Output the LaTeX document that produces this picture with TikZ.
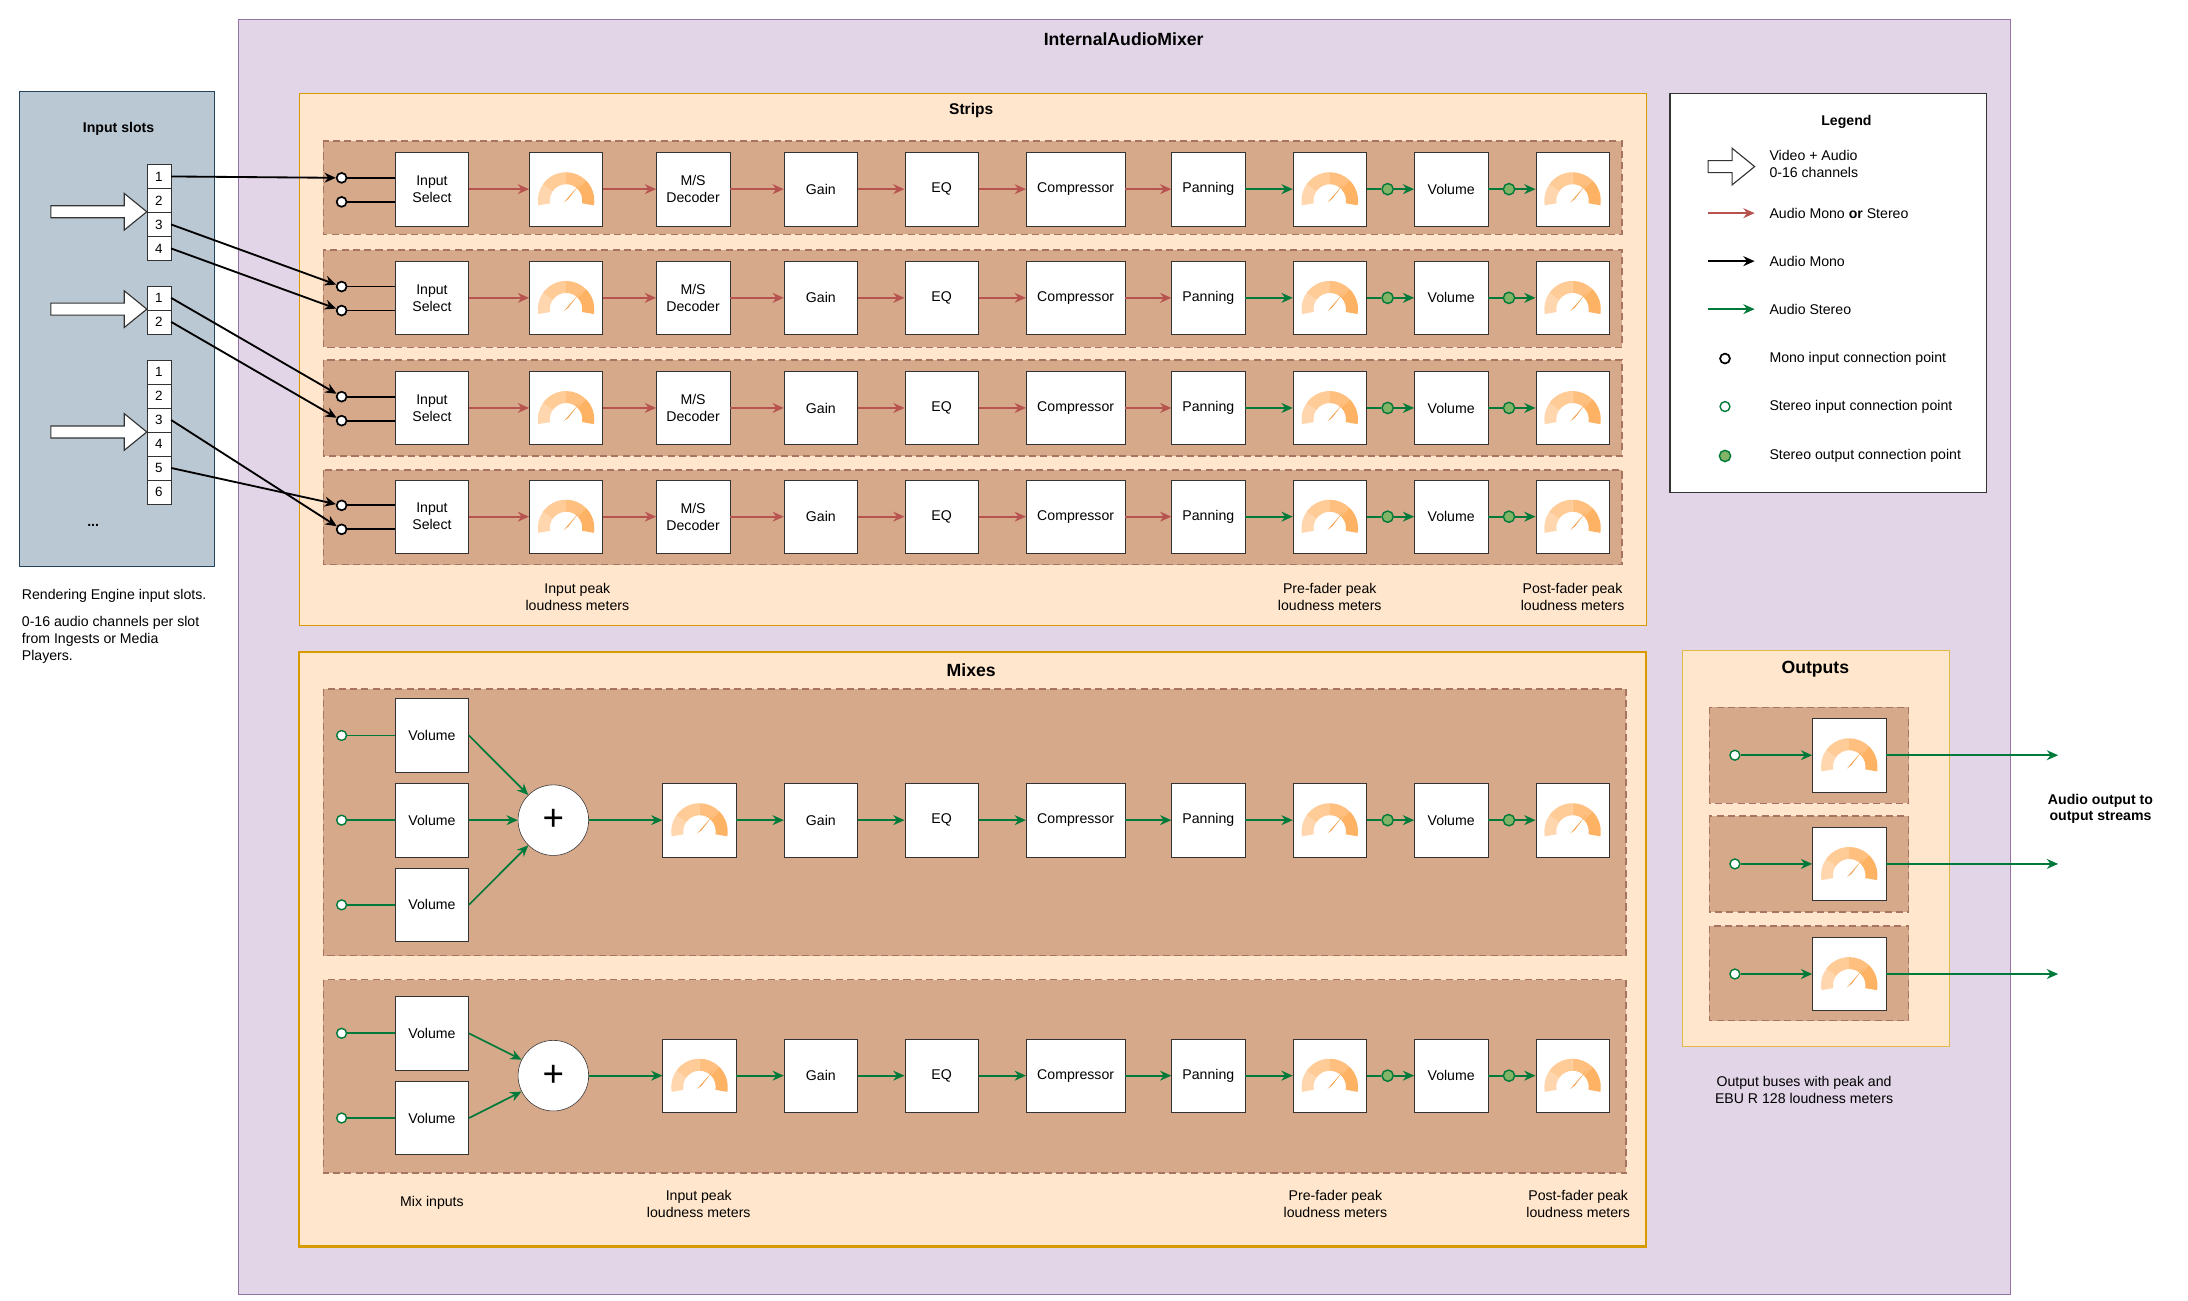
\documentclass[tikz,border=0pt]{standalone}
\usepackage{fontspec}
\setmainfont{Liberation Sans}
\usetikzlibrary{arrows.meta}
\definecolor{purp}{HTML}{E1D5E7}\definecolor{purpd}{HTML}{9673A6}
\definecolor{slate}{HTML}{BAC8D3}\definecolor{slated}{HTML}{23445D}
\definecolor{peach}{HTML}{FFE6CC}\definecolor{orng}{HTML}{D79B00}
\definecolor{tan}{HTML}{D6A98B}\definecolor{tand}{HTML}{A87462}
\definecolor{redl}{HTML}{B85450}\definecolor{grn}{HTML}{007A3A}
\definecolor{grnf}{HTML}{82B366}
\definecolor{g1}{HTML}{FFD6AE}\definecolor{g2}{HTML}{FFCB97}\definecolor{g3}{HTML}{FFC07F}\definecolor{g4}{HTML}{FDB264}
\definecolor{gn}{HTML}{F2A04E}
\tikzset{
 blk/.style={draw=black!80,fill=white,minimum width=52pt,minimum height=52pt,inner sep=1pt,align=center,font=\fontsize{10}{12}\selectfont},
 row/.style={draw=tand,fill=tan,dashed,dash pattern=on 5pt off 3pt,line width=1pt},
 ra/.style={redl,line width=1.2pt,-{Stealth[length=8pt,width=7pt]}},
 ga/.style={grn,line width=1.2pt,-{Stealth[length=8pt,width=7pt]}},
 ka/.style={black,line width=1.3pt,-{Stealth[length=8pt,width=7pt]}},
 mp/.style={circle,draw=black,line width=1.2pt,fill=white,minimum size=7pt,inner sep=0pt},
 sp/.style={circle,draw=grn,line width=1pt,fill=white,minimum size=7pt,inner sep=0pt},
 op/.style={circle,draw=grn,line width=1pt,fill=grnf,minimum size=8pt,inner sep=0pt},
 cell/.style={draw=black!80,fill=white,minimum width=17pt,minimum height=17pt,inner sep=0pt,font=\fontsize{9.5}{10}\selectfont},
 bigp/.style={draw=black!80,fill=white,line width=0.8pt},
 lbl/.style={font=\fontsize{10}{12}\selectfont,align=center},
 ttl/.style={font=\bfseries\fontsize{11}{13}\selectfont},
}
\newcommand\gauge[1]{%
 \begin{scope}[shift={(#1.center)},x=1pt,y=1pt,yshift=-8pt]
  \foreach \a/\b/\c in {190/145/g1,145/90/g2,90/45/g3,45/-10/g4}{
   \fill[\c] (\a:20) arc[start angle=\a,end angle=\b,radius=20] -- (\b:11.5) arc[start angle=\b,end angle=\a,radius=11.5] -- cycle;}
  \fill[gn] (-1.6,-1.4) -- (50:15) -- (1.6,1.0) -- cycle;
 \end{scope}}
\newcommand\bigarrow[3]{% tip x, y, length
 \draw[bigp] (#1,#2) -- ++(-16,-13) -- ++(0,8.75) -- ++(-#3+16,0) -- ++(0,8.5) -- ++(#3-16,0) -- ++(0,8.75) -- cycle;}
\begin{document}
\begin{tikzpicture}[x=1pt,y=-1pt]
\useasboundingbox (0,0) rectangle (1550,921);
\fill[white] (0,0) rectangle (1550,921);
% outer
\draw[purpd,fill=purp] (169,14) rectangle (1424,917);
\node[font=\bfseries\fontsize{12.5}{14}\selectfont] (tmain) at (796,28) {InternalAudioMixer};
% input slots
\draw[slated,fill=slate] (14,65) rectangle (152,401);
\node[ttl,font=\bfseries\fontsize{10}{11}\selectfont] (tin) at (84,91) {Input slots};
\foreach \i in {1,...,4}{\node[cell] (a\i) at (112.5,125-17+17*\i) {\i};}
\foreach \i in {1,2}{\node[cell] (b\i) at (112.5,211-17+17*\i) {\i};}
\foreach \i in {1,...,6}{\node[cell] (c\i) at (112.5,263.5-17+17*\i) {\i};}
\node[lbl,font=\bfseries\fontsize{10}{11}\selectfont] (dots) at (66,372) {...};
\bigarrow{104}{150}{68}
\bigarrow{104}{219}{68}
\bigarrow{104}{306}{68}
\node[font=\fontsize{10}{12}\selectfont,align=left,anchor=north west] (note) at (12,414) {Rendering Engine input slots.\\[7pt]0-16 audio channels per slot\\from Ingests or Media\\Players.};
% strips
\draw[orng,fill=peach] (212,66) rectangle (1166,443);
\node[ttl] (tstr) at (688,78) {Strips};
\foreach \r/\y/\t/\b in {1/134/100/166,2/211/177/246,3/289/255/323,4/366/333/400}{
 \draw[row] (229,\t) rectangle (1149,\b);
 \node[blk] (s\r in) at (306,\y) {Input\\Select};
 \node[blk] (s\r m1) at (401,\y) {}; \gauge{s\r m1}
 \node[blk] (s\r ms) at (491,\y) {M/S\\Decoder};
 \node[blk] (s\r g) at (581.5,\y) {Gain};
 \node[blk] (s\r eq) at (667,\y) {EQ};
 \node[blk,minimum width=70pt] (s\r c) at (762,\y) {Compressor};
 \node[blk] (s\r p) at (856,\y) {Panning};
 \node[blk] (s\r m2) at (942,\y) {}; \gauge{s\r m2}
 \node[blk] (s\r v) at (1028,\y) {Volume};
 \node[blk] (s\r m3) at (1114,\y) {}; \gauge{s\r m3}
 \node[mp] (s\r u) at (242,\y-8) {};
 \node[mp] (s\r l) at (242,\y+9) {};
 \draw[black,line width=1.3pt] (s\r u) -- (s\r u -| s\r in.west) (s\r l) -- (s\r l -| s\r in.west);
 \draw[ra] (s\r in) -- (s\r m1); \draw[ra] (s\r m1) -- (s\r ms); \draw[ra] (s\r ms) -- (s\r g);
 \draw[ra] (s\r g) -- (s\r eq); \draw[ra] (s\r eq) -- (s\r c); \draw[ra] (s\r c) -- (s\r p);
 \draw[ga] (s\r p) -- (s\r m2);
 \node[op] (s\r o1) at (983,\y) {}; \node[op] (s\r o2) at (1069,\y) {};
 \draw[grn,line width=1.2pt] (s\r m2) -- (s\r o1); \draw[ga] (s\r o1) -- (s\r v);
 \draw[grn,line width=1.2pt] (s\r v) -- (s\r o2); \draw[ga] (s\r o2) -- (s\r m3);
}
\draw[ka] (a1.east) -- (s1u);
\draw[ka] (a3.east) -- (s2u); \draw[ka] (a4.east) -- (s2l);
\draw[ka] (b1.east) -- (s3u); \draw[ka] (b2.east) -- (s3l);
\draw[ka] (c3.east) -- (s4l); \draw[ka] (c5.east) -- (s4u);
\node[lbl] (l1) at (409,423) {Input peak\\loudness meters};
\node[lbl] (l2) at (942,423) {Pre-fader peak\\loudness meters};
\node[lbl] (l3) at (1114,423) {Post-fader peak\\loudness meters};
% mixes
\draw[orng,fill=peach,line width=1.5pt] (212,462) rectangle (1166,883);
\node[ttl,font=\bfseries\fontsize{12.5}{14}\selectfont] (tmix) at (688,475) {Mixes};
\draw[row] (229,488) rectangle (1152,677);
\draw[row] (229,694) rectangle (1152,831);
\foreach \r/\y in {1/581,2/762}{
 \node[circle,draw=black!80,fill=white,minimum size=50pt,inner sep=0pt,font=\fontsize{26}{26}\selectfont] (x\r plus) at (392,\y) {+};
 \node[blk] (x\r m1) at (495.5,\y) {}; \gauge{x\r m1}
 \node[blk] (x\r g) at (581.5,\y) {Gain};
 \node[blk] (x\r eq) at (667,\y) {EQ};
 \node[blk,minimum width=70pt] (x\r c) at (762,\y) {Compressor};
 \node[blk] (x\r p) at (856,\y) {Panning};
 \node[blk] (x\r m2) at (942,\y) {}; \gauge{x\r m2}
 \node[blk] (x\r v) at (1028,\y) {Volume};
 \node[blk] (x\r m3) at (1114,\y) {}; \gauge{x\r m3}
 \draw[ga] (x\r plus) -- (x\r m1); \draw[ga] (x\r m1) -- (x\r g); \draw[ga] (x\r g) -- (x\r eq);
 \draw[ga] (x\r eq) -- (x\r c); \draw[ga] (x\r c) -- (x\r p); \draw[ga] (x\r p) -- (x\r m2);
 \node[op] (x\r o1) at (983,\y) {}; \node[op] (x\r o2) at (1069,\y) {};
 \draw[grn,line width=1.2pt] (x\r m2) -- (x\r o1); \draw[ga] (x\r o1) -- (x\r v);
 \draw[grn,line width=1.2pt] (x\r v) -- (x\r o2); \draw[ga] (x\r o2) -- (x\r m3);
}
\foreach \k/\r/\y in {1/1/521,2/1/581,3/1/641,4/2/732,5/2/792}{
 \node[blk] (v\k) at (306,\y) {Volume};
 \node[sp] (i\k) at (242,\y) {};
 \draw[grn,line width=1.2pt] (i\k) -- (v\k);
 \draw[ga] (v\k.east) -- (x\r plus);
}
\node[lbl] (l4) at (306,852) {Mix inputs};
\node[lbl] (l5) at (495,853) {Input peak\\loudness meters};
\node[lbl] (l6) at (946,853) {Pre-fader peak\\loudness meters};
\node[lbl] (l7) at (1118,853) {Post-fader peak\\loudness meters};
% outputs
\draw[orng!70,fill=peach] (1192,461) rectangle (1381,741);
\node[ttl,font=\bfseries\fontsize{12.5}{14}\selectfont] (tout) at (1286,474) {Outputs};
\foreach \k/\y/\t/\b in {1/535/501/569,2/612/578/646,3/690/656/723}{
 \draw[row] (1211,\t) rectangle (1352,\b);
 \node[blk] (om\k) at (1310,\y) {}; \gauge{om\k}
 \node[sp] (oi\k) at (1229,\y) {};
 \coordinate (oe\k) at (1458,\y);
 \draw[ga] (oi\k) -- (om\k);
 \draw[ga] (om\k.east) -- (oe\k);
}
\node[lbl,font=\bfseries\fontsize{10}{12}\selectfont] (aout) at (1488,573) {Audio output to\\output streams};
\node[lbl] (l8) at (1278,772) {Output buses with peak and\\EBU R 128 loudness meters};
% legend
\draw[black!80,fill=white,line width=0.8pt] (1183,66) rectangle (1407,349);
\node[ttl,font=\bfseries\fontsize{10}{11}\selectfont] (tleg) at (1308,86) {Legend};
\begin{scope}\bigarrow{1243}{118}{33}\end{scope}
\foreach \k/\y/\s in {2/151/ra,3/185/ka,4/219/ga}{
 \coordinate (lga\k) at (1210,\y); \coordinate (lgb\k) at (1243,\y);
 \draw[\s] (lga\k) -- (lgb\k);}
\node[mp] (lg5) at (1222,254) {};
\node[sp] (lg6) at (1222,288) {};
\node[op] (lg7) at (1222,323) {};
\tikzset{lt/.style={font=\fontsize{10}{12}\selectfont,align=left,anchor=west}}
\node[lt] (t1) at (1250,116) {Video + Audio\\0-16 channels};
\node[lt] (t2) at (1250,151) {Audio Mono \textbf{or} Stereo};
\node[lt] (t3) at (1250,185) {Audio Mono};
\node[lt] (t4) at (1250,219) {Audio Stereo};
\node[lt] (t5) at (1250,254) {Mono input connection point};
\node[lt] (t6) at (1250,288) {Stereo input connection point};
\node[lt] (t7) at (1250,323) {Stereo output connection point};
\end{tikzpicture}
\end{document}
